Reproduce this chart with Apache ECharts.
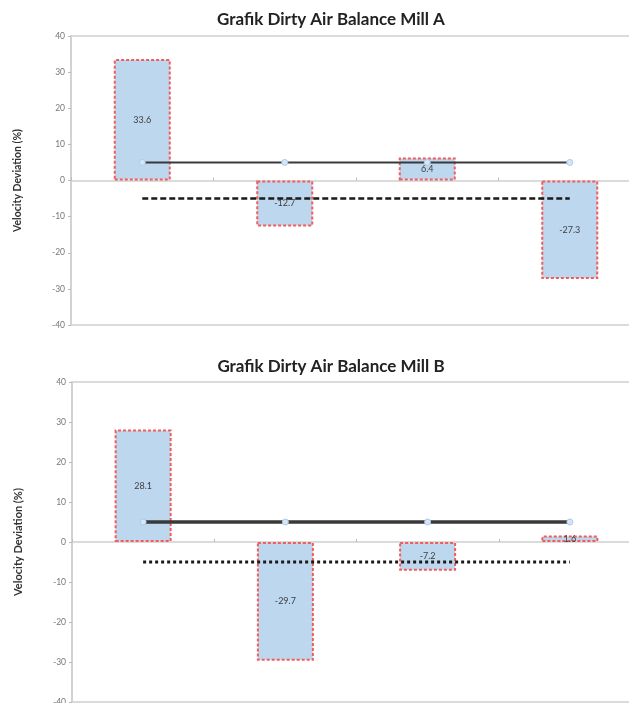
<!DOCTYPE html>
<html>
<head>
<meta charset="utf-8">
<script src="https://cdn.jsdelivr.net/npm/echarts@6/dist/echarts.min.js"></script>
<style>
html,body{margin:0;padding:0;background:#fff;}
#c{width:629px;height:703px;}
</style>
</head>
<body>
<div id="c"></div>
<script>
const categories = ['1', '2', '3', '4'];
const millA = [33.6, -12.7, 6.4, -27.3];
const millB = [28.1, -29.7, -7.2, 1.6];
const upperLimit = [5, 5, 5, 5];
const lowerLimit = [-5, -5, -5, -5];
const titles = ['Grafik Dirty Air Balance Mill A', 'Grafik Dirty Air Balance Mill B'];
const yName = 'Velocity Deviation (%)';

const FONT = 'Lato';
const grids = [
  {left: 71, top: 36, height: 289, width: 570},
  {left: 72, top: 382, height: 320, width: 569}
];

function barSeries(data, idx) {
  return {
    type: 'bar', xAxisIndex: idx, yAxisIndex: idx, data: data, barWidth: 57,
    itemStyle: {color: '#bdd7ee', borderColor: '#f25c5c', borderWidth: 2, borderType: [3, 2]},
    label: {show: true, position: 'inside', fontFamily: FONT, fontSize: 9, color: '#404040',
      formatter: p => String(p.value)},
    z: 2
  };
}
function lineSeries(data, idx, solid, w) {
  return {
    type: 'line', xAxisIndex: idx, yAxisIndex: idx, data: data,
    symbol: solid ? 'circle' : 'none', symbolSize: 6,
    itemStyle: {color: '#d6e6f6', borderColor: '#a9cbea', borderWidth: 1},
    lineStyle: solid ? {color: '#3a3a3a', width: w} : {color: '#1a1a1a', width: w, type: idx === 0 ? [6, 3] : [3, 3]},
    z: 3, silent: true
  };
}

const option = {
  animation: false,
  backgroundColor: '#fff',
  title: titles.map((t, i) => ({
    text: t, left: 326, textAlign: 'center', top: i === 0 ? 6 : 353,
    textStyle: {fontFamily: FONT, fontWeight: 'bold', fontSize: 17, color: '#222'}
  })),
  grid: grids.map(g => Object.assign({show: true, borderColor: '#cfcfcf', borderWidth: 1.5,
    backgroundColor: 'transparent', containLabel: false, outerBoundsMode: 'none'}, g)),
  xAxis: [0, 1].map(i => ({
    type: 'category', gridIndex: i, data: categories,
    axisLine: {onZero: true, lineStyle: {color: '#cfcfcf', width: 1.5}},
    axisTick: {show: true, inside: true, length: 3, lineStyle: {color: '#bbb'}},
    axisLabel: {show: false}, splitLine: {show: false}
  })),
  yAxis: [0, 1].map(i => ({
    type: 'value', gridIndex: i, min: -40, max: 40, interval: 10,
    name: yName, nameLocation: 'middle', nameRotate: 90, nameGap: 48,
    nameTextStyle: {fontFamily: FONT, fontWeight: 'bold', fontSize: i === 0 ? 10.5 : 11, color: '#333'},
    axisLine: {show: true, lineStyle: {color: '#cfcfcf', width: 1.5}},
    axisTick: {show: true, length: 3, lineStyle: {color: '#bbb'}},
    axisLabel: {fontFamily: FONT, fontSize: 8.5, color: '#777', margin: 6},
    splitLine: {show: false}
  })),
  series: [
    barSeries(millA, 0),
    lineSeries(upperLimit, 0, true, 2),
    lineSeries(lowerLimit, 0, false, 2.5),
    barSeries(millB, 1),
    lineSeries(upperLimit, 1, true, 3.5),
    lineSeries(lowerLimit, 1, false, 3)
  ]
};
const chart = echarts.init(document.getElementById('c'), null, {renderer: 'canvas'});
chart.setOption(option);
</script>
</body>
</html>
